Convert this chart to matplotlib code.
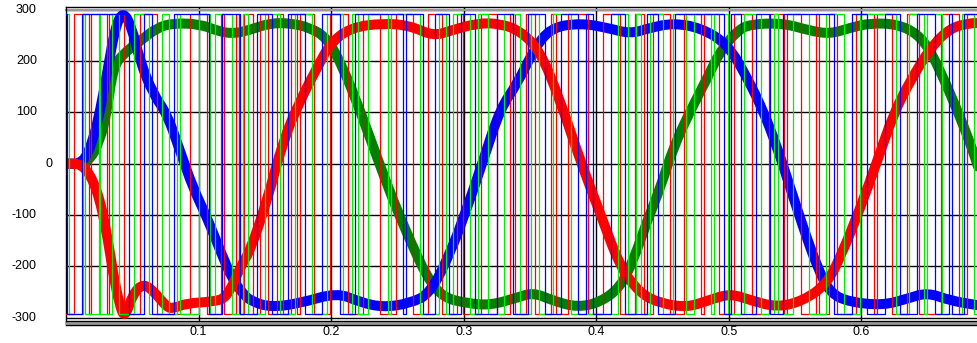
import numpy as np
import matplotlib.pyplot as plt
from matplotlib import transforms
from matplotlib.path import Path
from matplotlib.patches import PathPatch

# thick phase curves (time in s, value)
red_t = [0.0, 0.0128, 0.0234, 0.0309, 0.0355, 0.0408, 0.0445, 0.0506, 0.0581, 0.0657,
         0.0762, 0.0808, 0.0913, 0.1109, 0.1215, 0.1313, 0.1389, 0.1517, 0.1638, 0.1766,
         0.1894, 0.1992, 0.2143, 0.2392, 0.2596, 0.2770, 0.2898, 0.3102, 0.3275, 0.3426,
         0.3577, 0.3728, 0.3879, 0.4030, 0.4181, 0.4332, 0.4483, 0.4687, 0.4838, 0.5011,
         0.5162, 0.5366, 0.5562, 0.5743, 0.5864, 0.5992, 0.6121, 0.6242, 0.6370, 0.6521,
         0.6672, 0.6823, 0.6883]
red_v = [0, 0, -47, -136, -214, -280, -300, -253, -234, -247,
         -280, -282, -272, -269, -261, -202, -170, -72, 45, 123,
         187, 234, 265, 274, 269, 249, 259, 274, 273, 259,
         220, 123, 6, -97, -202, -253, -272, -280, -267, -253,
         -266, -280, -267, -234, -169, -86, 6, 97, 162, 226,
         265, 274, 274]

blue_t = [0.0, 0.0128, 0.0204, 0.0257, 0.0309, 0.0370, 0.0430, 0.0498, 0.0558, 0.0657,
          0.0762, 0.0860, 0.0958, 0.1064, 0.1162, 0.1260, 0.1336, 0.1389, 0.1540, 0.1766,
          0.2045, 0.2219, 0.2392, 0.2596, 0.2747, 0.2898, 0.3026, 0.3147, 0.3275, 0.3404,
          0.3525, 0.3653, 0.3879, 0.4083, 0.4257, 0.4408, 0.4581, 0.4785, 0.4989, 0.5140,
          0.5260, 0.5366, 0.5464, 0.5562, 0.5668, 0.5766, 0.5917, 0.6166, 0.6347, 0.6498,
          0.6672, 0.6883]
blue_v = [0, 0, 45, 103, 175, 265, 298, 265, 200, 136,
          97, 25, -47, -105, -169, -228, -253, -267, -280, -272,
          -251, -270, -280, -272, -253, -175, -86, 6, 107, 156,
          220, 265, 274, 265, 253, 265, 274, 265, 234, 167,
          103, 31, -47, -125, -202, -253, -270, -276, -263, -251,
          -267, -276]

green_t = [0.0, 0.0166, 0.0257, 0.0309, 0.0355, 0.0430, 0.0558, 0.0687, 0.0808, 0.1011,
           0.1140, 0.1260, 0.1389, 0.1540, 0.1691, 0.1842, 0.1970, 0.2091, 0.2219, 0.2347,
           0.2468, 0.2596, 0.2725, 0.2845, 0.3026, 0.3200, 0.3404, 0.3525, 0.3675, 0.3857,
           0.4030, 0.4181, 0.4279, 0.4385, 0.4483, 0.4581, 0.4709, 0.4838, 0.4936, 0.5064,
           0.5162, 0.5411, 0.5615, 0.5766, 0.5917, 0.6068, 0.6272, 0.6423, 0.6521, 0.6619,
           0.6725, 0.6823, 0.6883]
green_v = [0, 0, 45, 103, 187, 214, 239, 265, 274, 272,
           259, 253, 261, 274, 274, 265, 245, 187, 103, 12,
           -72, -150, -222, -261, -272, -276, -261, -251, -267, -280,
           -270, -241, -189, -111, -47, 31, 103, 167, 220, 259,
           272, 274, 259, 253, 265, 274, 272, 253, 220, 167,
           103, 39, -8]

# PWM switching instants
red_sw = [0.0063, 0.0171, 0.0191, 0.0309, 0.0322, 0.0435, 0.0561, 0.0687, 0.0934, 0.1064,
          0.1170, 0.1195, 0.1281, 0.1306, 0.1346, 0.1414, 0.1464, 0.1522, 0.1590, 0.1640,
          0.1698, 0.1741, 0.1766, 0.1874, 0.1992, 0.2126, 0.2244, 0.2368, 0.2493, 0.2619,
          0.2732, 0.2838, 0.2953, 0.2996, 0.3130, 0.3248, 0.3349, 0.3386, 0.3472, 0.3540,
          0.3660, 0.3698, 0.3786, 0.3937, 0.4051, 0.4183, 0.4289, 0.4360, 0.4428, 0.4553,
          0.4664, 0.4790, 0.4810, 0.4928, 0.5042, 0.5172, 0.5306, 0.5419, 0.5439, 0.5545,
          0.5658, 0.5683, 0.5758, 0.5819, 0.5957, 0.6096, 0.6115, 0.6234, 0.6347, 0.6436,
          0.6598, 0.6737, 0.6800]
green_sw = [0.0023, 0.0128, 0.0143, 0.0247, 0.0259, 0.0347, 0.0400, 0.0511, 0.0624, 0.0725,
            0.0775, 0.0838, 0.0860, 0.1002, 0.1087, 0.1125, 0.1251, 0.1338, 0.1371, 0.1502,
            0.1615, 0.1728, 0.1854, 0.1968, 0.2093, 0.2156, 0.2206, 0.2282, 0.2430, 0.2451,
            0.2669, 0.2813, 0.2863, 0.2921, 0.3047, 0.3109, 0.3185, 0.3306, 0.3424, 0.3509,
            0.3572, 0.3673, 0.3806, 0.4164, 0.4239, 0.4302, 0.4340, 0.4402, 0.4503, 0.4579,
            0.4677, 0.4740, 0.4866, 0.4885, 0.4991, 0.5117, 0.5243, 0.5343, 0.5368, 0.5482,
            0.5608, 0.5734, 0.5869, 0.5990, 0.6259, 0.6360, 0.6473, 0.6498, 0.6611, 0.6762,
            0.6851]
blue_sw = [0.0005, 0.0120, 0.0473, 0.0586, 0.0649, 0.0813, 0.1077, 0.1180, 0.1313, 0.1439,
           0.1557, 0.1678, 0.1804, 0.1934, 0.2068, 0.2181, 0.2543, 0.2568, 0.2694, 0.2783,
           0.2888, 0.2979, 0.3085, 0.3255, 0.3374, 0.3485, 0.3615, 0.3736, 0.3866, 0.3925,
           0.3975, 0.4113, 0.4214, 0.4385, 0.4466, 0.4591, 0.4966, 0.5017, 0.5092, 0.5205,
           0.5313, 0.5406, 0.5794, 0.5932, 0.6040, 0.6176, 0.6292, 0.6417, 0.6553, 0.6662,
           0.6687, 0.6775]
pwm_level = 292

yticks = [300, 200, 100, 0, -100, -200, -300]
xticks = [0.1, 0.2, 0.3, 0.4, 0.5, 0.6]
x_max = 0.688

plt.rcParams['font.family'] = ['Liberation Sans', 'DejaVu Sans']

fig = plt.figure(figsize=(9.78, 3.43), dpi=100)
ax = fig.add_axes([66 / 978, 22.3 / 343, 912 / 978, 314 / 343])


def smooth_curve(t, v, color):
    # quadratic bezier through midpoints, data points as control points
    pts = np.column_stack([t, v])
    verts = [pts[0], (pts[0] + pts[1]) / 2]
    codes = [Path.MOVETO, Path.LINETO]
    for i in range(1, len(pts) - 1):
        verts += [pts[i], (pts[i] + pts[i + 1]) / 2]
        codes += [Path.CURVE3, Path.CURVE3]
    verts.append(pts[-1])
    codes.append(Path.LINETO)
    patch = PathPatch(Path(verts, codes), fill=False, edgecolor=color, lw=7.2,
                      capstyle='round', joinstyle='round', zorder=2)
    ax.add_patch(patch)


# thick filtered curves (green under blue under red)
smooth_curve(green_t, green_v, '#008000')
smooth_curve(blue_t, blue_v, '#0000ff')
smooth_curve(red_t, red_v, '#ff0000')


def pwm(sw, start):
    t = np.r_[0.0, sw, x_max]
    lev = np.where(np.arange(len(t)) % 2 == 0, start, -start) * pwm_level
    return t, lev


for sw, start, col in [(red_sw, -1, '#ff0000'), (green_sw, 1, '#00ee00'), (blue_sw, 1, '#0000ff')]:
    t, lev = pwm(sw, start)
    ax.step(t, lev, where='post', color=col, lw=0.9, zorder=3)

ax.set_xlim(0, x_max)
ax.set_ylim(-306, 306)

ax.set_xticks(xticks)
ax.set_xticklabels([f'{x:.1f}' for x in xticks], fontsize=9)
ax.set_yticks(yticks)
ax.set_yticklabels([])
ax.tick_params(axis='both', length=0, pad=4)

# y labels, placed like the original
trans = transforms.blended_transform_factory(ax.transAxes, ax.transData)
for v in yticks:
    xpos = -0.0145 if v == 0 else -0.032
    ax.text(xpos, v, str(v), transform=trans, ha='right', va='center', fontsize=9)

ax.grid(True, color='black', lw=1, zorder=1)
ax.set_axisbelow(True)

ax.spines['right'].set_visible(False)
for s in ['top', 'bottom', 'left']:
    ax.spines[s].set_color('black')
    ax.spines[s].set_linewidth(1)
# grey double frame lines at top and bottom
ax.plot([0, 1], [0.988, 0.988], transform=ax.transAxes, color='#999999', lw=1.5, zorder=1, clip_on=False)
ax.plot([0, 1], [-0.008, -0.008], transform=ax.transAxes, color='#999999', lw=2, zorder=1, clip_on=False)
ax.plot([0, 1], [-0.014, -0.014], transform=ax.transAxes, color='black', lw=1, zorder=1, clip_on=False)

fig.savefig('out.png', dpi=100)
